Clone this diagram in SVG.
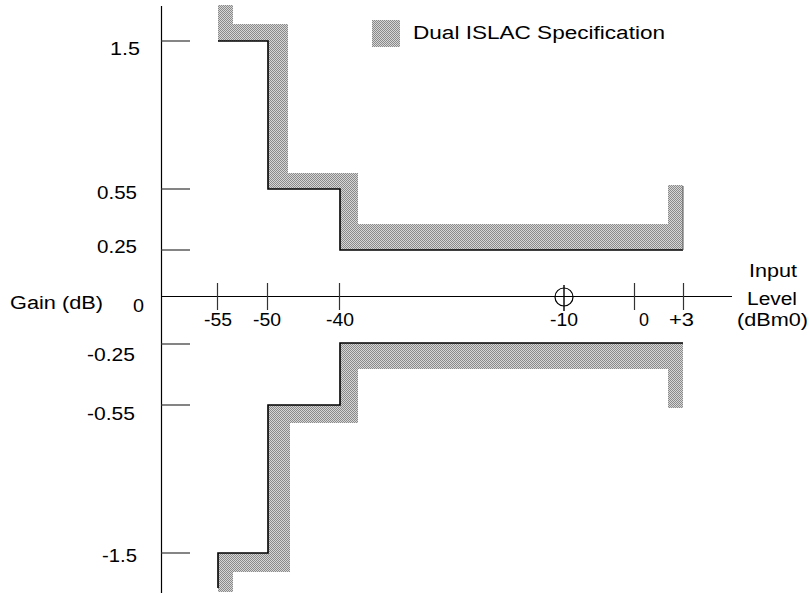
<svg xmlns="http://www.w3.org/2000/svg" width="809" height="595" viewBox="0 0 809 595">
  <style>
    text { font-family: "Liberation Sans", Arial, sans-serif; font-size: 18px; fill: #000; }
    .axis { stroke: #000; stroke-width: 1.2; fill: none; }
    .tick { stroke: #333; stroke-width: 1.2; fill: none; }
    .edge { stroke: #000; stroke-width: 1.6; fill: none; }
    .band { fill: url(#dither); }
    .mid { text-anchor: middle; }
  </style>
  <defs>
    <pattern id="dither" width="2" height="2" patternUnits="userSpaceOnUse">
      <rect width="2" height="2" fill="#d6d6d6"/>
      <rect width="1" height="1" fill="#8a8a8a"/>
      <rect x="1" y="1" width="1" height="1" fill="#8a8a8a"/>
    </pattern>
  </defs>
  <rect width="809" height="595" fill="#fff"/>

  <g id="upper-spec">
    <polygon class="band" points="218,5 233,5 233,24 288,24 288,173 358,173 358,224 668,224 668,185 683,185 683,250 340,250 340,189 268,189 268,41 218,41"/>
    <polyline class="edge" points="218,41 268,41 268,189 340,189 340,250 683,250"/>
    <line x1="683" y1="186" x2="683" y2="250" stroke="#555" stroke-width="1"/>
  </g>

  <g id="lower-spec">
    <polygon class="band" points="218,553 268,553 268,405 340,405 340,343 683,343 683,408 668,408 668,369 358,369 358,423 290,423 290,572 233,572 233,592 218,592"/>
    <polyline class="edge" points="218,588 218,553 268,553 268,405 340,405 340,343 683,343"/>
  </g>

  <g id="axes">
    <line class="axis" x1="161.5" y1="6" x2="161.5" y2="593"/>
    <line class="axis" x1="161" y1="296.5" x2="732" y2="296.5"/>
    <g id="y-ticks">
      <line class="tick" x1="161" y1="41" x2="190" y2="41"/>
      <line class="tick" x1="161" y1="189" x2="190" y2="189"/>
      <line class="tick" x1="161" y1="250" x2="190" y2="250"/>
      <line class="tick" x1="161" y1="344" x2="190" y2="344"/>
      <line class="tick" x1="161" y1="405" x2="190" y2="405"/>
      <line class="tick" x1="161" y1="553" x2="190" y2="553"/>
    </g>
    <g id="x-ticks">
      <line class="tick" x1="217.5" y1="283" x2="217.5" y2="310"/>
      <line class="tick" x1="267.5" y1="283" x2="267.5" y2="310"/>
      <line class="tick" x1="339.5" y1="283" x2="339.5" y2="310"/>
      <line class="tick" x1="634.5" y1="283" x2="634.5" y2="310"/>
      <line class="tick" x1="683.5" y1="283" x2="683.5" y2="310"/>
    </g>
    <g id="ref-point">
      <circle cx="564" cy="297" r="9" fill="none" stroke="#000" stroke-width="1.2"/>
      <line x1="564" y1="285" x2="564" y2="311" stroke="#000" stroke-width="1.4"/>
    </g>
  </g>

  <g id="y-labels">
    <text x="110" y="55" textLength="30" lengthAdjust="spacingAndGlyphs">1.5</text>
    <text x="97" y="199" textLength="40" lengthAdjust="spacingAndGlyphs">0.55</text>
    <text x="97" y="253" textLength="40" lengthAdjust="spacingAndGlyphs">0.25</text>
    <text x="133" y="312" textLength="11" lengthAdjust="spacingAndGlyphs">0</text>
    <text x="87" y="361" textLength="48" lengthAdjust="spacingAndGlyphs">-0.25</text>
    <text x="87" y="420" textLength="48" lengthAdjust="spacingAndGlyphs">-0.55</text>
    <text x="102" y="562" textLength="35" lengthAdjust="spacingAndGlyphs">-1.5</text>
    <text x="10" y="309" textLength="93" lengthAdjust="spacingAndGlyphs">Gain (dB)</text>
  </g>

  <g id="x-labels">
    <text x="204" y="326" textLength="28" lengthAdjust="spacingAndGlyphs">-55</text>
    <text x="253" y="326" textLength="28" lengthAdjust="spacingAndGlyphs">-50</text>
    <text x="326" y="326" textLength="28" lengthAdjust="spacingAndGlyphs">-40</text>
    <text x="550" y="326" textLength="28" lengthAdjust="spacingAndGlyphs">-10</text>
    <text x="639" y="326" textLength="10" lengthAdjust="spacingAndGlyphs">0</text>
    <text x="669" y="326" textLength="25" lengthAdjust="spacingAndGlyphs">+3</text>
    <text x="749" y="277" textLength="48" lengthAdjust="spacingAndGlyphs">Input</text>
    <text x="747" y="305" textLength="50" lengthAdjust="spacingAndGlyphs">Level</text>
    <text x="737" y="326" textLength="71" lengthAdjust="spacingAndGlyphs">(dBm0)</text>
  </g>

  <g id="legend">
    <rect class="band" x="372" y="20" width="28" height="27"/>
    <text x="413" y="39" textLength="252" lengthAdjust="spacingAndGlyphs">Dual ISLAC Specification</text>
  </g>
</svg>
